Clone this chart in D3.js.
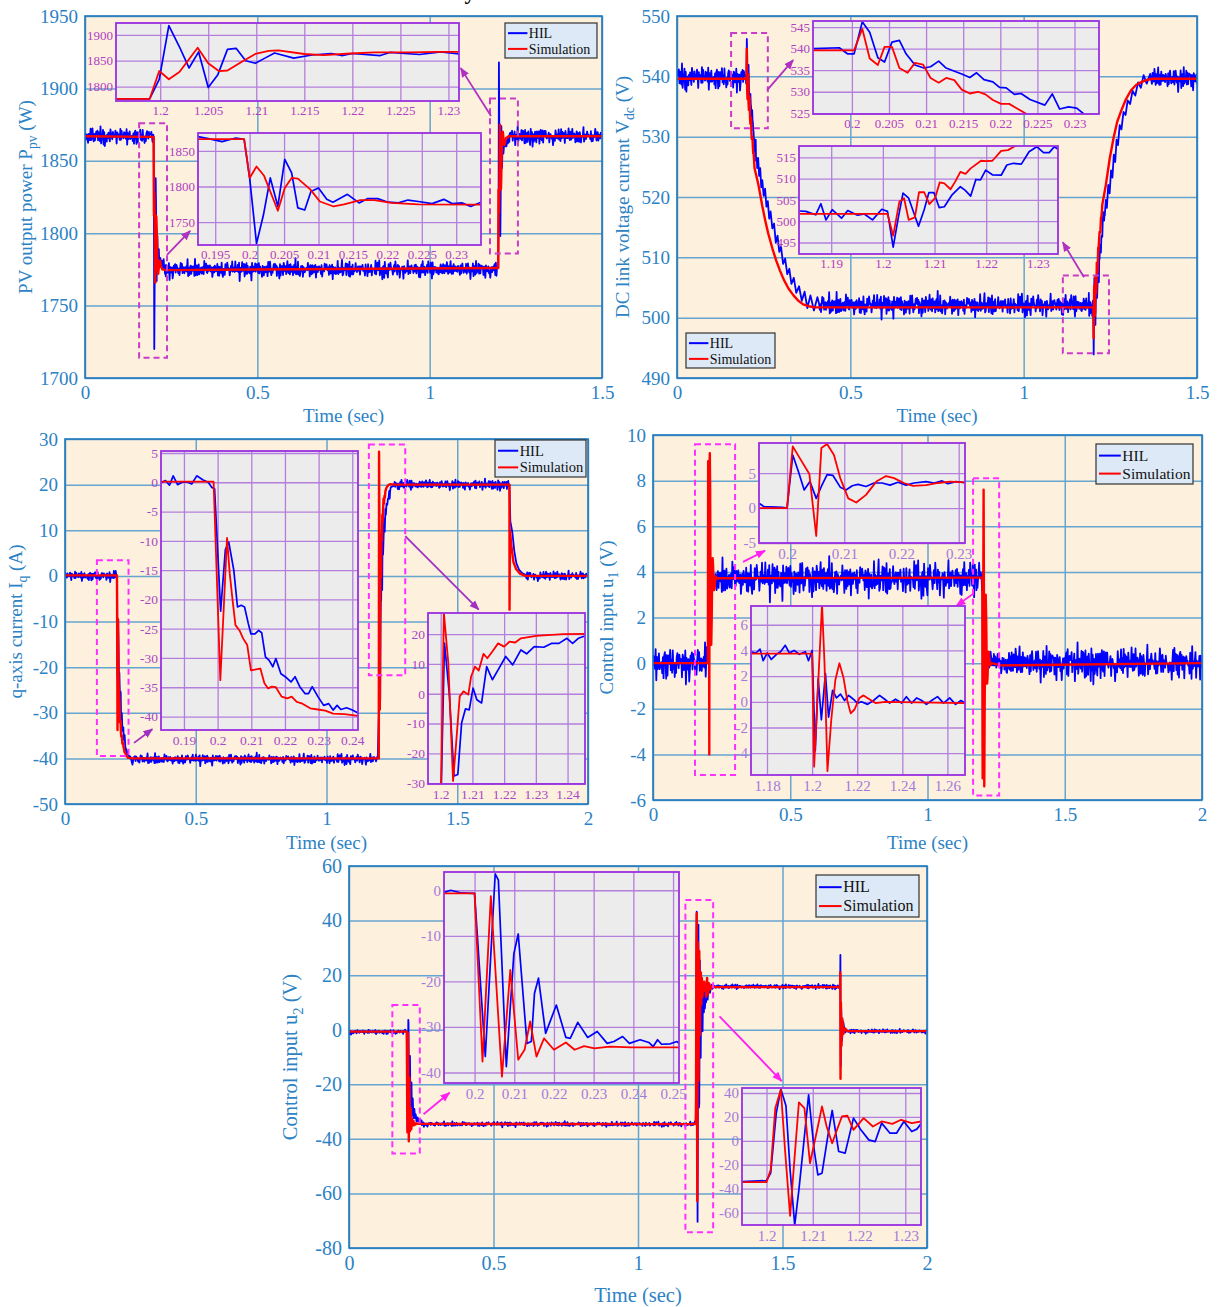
<!DOCTYPE html>
<html>
<head>
<meta charset="utf-8">
<script src="https://d3js.org/d3.v7.min.js"></script>
<style>
body { margin: 0; background: #fff; }
svg { display: block; }
</style>
</head>
<body>
<svg id="fig" width="1217" height="1307"></svg>
<script>
// ---- hand-read residual pattern used for the noisy HIL steady segments
var NOISE = [0.3,-0.5,0.1,0.7,-0.2,-0.8,0.4,0.0,-0.3,0.6,-0.6,0.2,0.9,-0.1,-0.4,0.5,-0.9,0.1,0.3,-0.2,
  0.6,-0.7,0.0,0.4,-0.3,1.0,-0.5,0.2,-0.1,0.5,-0.6,0.3,-1.0,0.1,0.4,-0.2,0.7,-0.4,0.0,0.2,
  -0.8,0.5,-0.1,0.3,-0.5,0.8,-0.3,0.1,-0.6,0.4,0.2,-0.9,0.6,-0.2,0.0,0.3,-0.4,0.9,-0.7,0.1,
  0.5,-0.3,-0.1,0.7,-0.5,0.2,-0.2,0.4,-1.0,0.3,0.1,-0.6,0.8,-0.1,-0.3,0.5,0.0,-0.7,0.6,-0.4,
  0.2,0.9,-0.2,-0.5,0.3,-0.8,0.1,0.4,-0.3,0.6,-0.1,0.0,-0.6,0.7,-0.4,0.2,-0.9];

// ---- tick labels
var mainT15 = [0, 0.5, 1, 1.5];
var mainT2 = [0, 0.5, 1, 1.5, 2];
var ppvTicks = [1700, 1750, 1800, 1850, 1900, 1950];
var vdcTicks = [490, 500, 510, 520, 530, 540, 550];
var iqTicks = [-50, -40, -30, -20, -10, 0, 10, 20, 30];
var u1Ticks = [-6, -4, -2, 0, 2, 4, 6, 8, 10];
var u2Ticks = [-80, -60, -40, -20, 0, 20, 40, 60];

var ppvDropT = [0.195, 0.2, 0.205, 0.21, 0.215, 0.22, 0.225, 0.23];
var ppvRiseT = [1.2, 1.205, 1.21, 1.215, 1.22, 1.225, 1.23];
var vdcDropT = [0.2, 0.205, 0.21, 0.215, 0.22, 0.225, 0.23];
var vdcRiseT = [1.19, 1.2, 1.21, 1.22, 1.23];
var iqDropT = [0.19, 0.2, 0.21, 0.22, 0.23, 0.24];
var iqRiseT = [1.2, 1.21, 1.22, 1.23, 1.24];
var u1DropT = [0.2, 0.21, 0.22, 0.23];
var u1RiseT = [1.18, 1.2, 1.22, 1.24, 1.26];
var u2DropT = [0.2, 0.21, 0.22, 0.23, 0.24, 0.25];
var u2RiseT = [1.2, 1.21, 1.22, 1.23];

// ---- PV power (W)
var ppvSimDrop = [[0.1925,1866.5],[0.1992,1866.5],[0.2,1812],[0.201,1828],[0.2021,1815],[0.2041,1766],[0.2051,1798],
  [0.2061,1812],[0.207,1811],[0.2088,1796],[0.2102,1779],[0.2122,1772],[0.2137,1775],[0.2161,1781],[0.2181,1781],
  [0.2206,1777],[0.2245,1775],[0.2336,1774.5]];
var ppvHilDrop = [[0.1925,1870],[0.194,1867],[0.196,1863],[0.198,1868],[0.1992,1866],[0.2,1812],[0.201,1720],
  [0.202,1760],[0.203,1812],[0.2041,1772],[0.2051,1838],[0.2061,1819],[0.207,1770],[0.208,1767],[0.2089,1793],
  [0.21,1798],[0.2112,1782],[0.2121,1778],[0.2142,1789],[0.2159,1777],[0.2171,1783],[0.2186,1783],[0.2201,1778],
  [0.2216,1777],[0.223,1781],[0.2245,1779],[0.2265,1776],[0.2282,1782],[0.2294,1776],[0.2309,1777],[0.2321,1772],[0.2336,1778]];
var ppvSimRise = [[1.1953,1776],[1.1989,1776],[1.1999,1830],[1.2009,1814],[1.202,1828],[1.2039,1875],[1.205,1845],
  [1.2061,1830],[1.207,1831],[1.2085,1848],[1.2099,1863],[1.2113,1869],[1.2123,1870],[1.215,1863],[1.217,1861],
  [1.2198,1864],[1.2223,1866],[1.226,1866],[1.2288,1867],[1.2311,1867]];
var ppvHilRise = [[1.1953,1776],[1.1989,1776],[1.1999,1814],[1.2009,1918],[1.202,1877],[1.203,1836],[1.204,1867],
  [1.205,1798],[1.206,1823],[1.207,1872],[1.2079,1874],[1.2089,1850],[1.2099,1845],[1.2109,1855],[1.2119,1865],
  [1.2139,1855],[1.2158,1861],[1.2178,1864],[1.219,1860],[1.22,1864],[1.2229,1860],[1.2239,1866],[1.227,1862],
  [1.2292,1867],[1.2311,1863]];
var ppvSteady = [[0,0.1922,1867,7],[0.2345,1.1945,1775,7],[1.232,1.5,1867,7]];

// ---- DC link voltage (V)
var vdcSimDrop = [[0.1948,539.6],[0.2003,539.6],[0.2014,544.6],[0.2024,537.7],[0.2035,536.2],[0.2044,540.4],
  [0.2054,540.4],[0.2064,535.5],[0.2075,534.4],[0.2085,536.7],[0.2096,536.3],[0.2106,533.2],[0.2117,532.1],
  [0.2127,533.2],[0.2138,532.7],[0.2148,530.5],[0.2159,529.6],[0.217,530],[0.218,529.4],[0.219,528.1],
  [0.2201,527.2],[0.2212,527.2],[0.2222,526.2],[0.2236,524.8]];
var vdcSimDecay = [[0.235,522],[0.246,518.5],[0.255,516],[0.263,514],[0.275,511.5],[0.286,509.5],[0.297,507.8],
  [0.308,506.3],[0.322,504.8],[0.336,503.7],[0.35,502.8],[0.364,502.2],[0.38,501.9],[0.398,501.7]];
var vdcHilDrop = [[0.1948,540],[0.1983,540.2],[0.1994,538.8],[0.2003,538.8],[0.2014,546.2],[0.2024,543.8],
  [0.2035,537.9],[0.2044,536.9],[0.2054,541.5],[0.2064,541.9],[0.2073,538.8],[0.2085,536.2],[0.2097,535.5],
  [0.2106,535.8],[0.2117,537.1],[0.2127,535.5],[0.2148,534.1],[0.2159,533.3],[0.2168,534.4],[0.2178,532.8],
  [0.219,532.3],[0.2199,531],[0.2208,530.9],[0.2219,529.4],[0.2228,529.6],[0.224,528.2],[0.226,526.9],
  [0.227,529.5],[0.228,526],[0.2292,526.5],[0.2303,526.2],[0.2313,524.8]];
var vdcHilDecay = [[0.234,526.5],[0.237,523.5],[0.24,524.8],[0.243,521.6],[0.246,522.8],[0.25,520.2],[0.254,521.4],
  [0.258,518.4],[0.262,519.3],[0.266,516.4],[0.27,517.6],[0.275,514.8],[0.28,515.6],[0.285,512.4],[0.29,513.6],
  [0.295,510.9],[0.3,511.8],[0.306,508.9],[0.312,509.8],[0.318,507.2],[0.324,508.1],[0.33,505.6],[0.337,506.6],
  [0.344,504.1],[0.352,505.2],[0.36,502.8],[0.368,504.3],[0.376,501.6],[0.385,503.7],[0.395,501.2],[0.405,503.4]];
var vdcSimRise = [[1.1838,501.7],[1.2009,501.7],[1.202,496.6],[1.2032,504.6],[1.2041,505.4],[1.205,500.3],
  [1.2062,500.9],[1.207,506.8],[1.208,506.8],[1.209,504],[1.2101,505.4],[1.211,509.1],[1.2119,508.9],
  [1.2131,507.5],[1.214,509.3],[1.215,511.6],[1.216,511.1],[1.217,512.4],[1.219,514.2],[1.22,514.1],
  [1.2212,514.2],[1.2229,516.5],[1.2242,516.7],[1.2257,517.7],[1.2268,518.7]];
var vdcSimRecover = [[1.237,522],[1.248,526.3],[1.26,530],[1.27,532.5],[1.282,534.4],[1.295,536.2],[1.31,537.7],
  [1.325,538.6],[1.338,539],[1.355,539.4],[1.372,539.6],[1.5,539.6]];
var vdcHilRise = [[1.1838,502.4],[1.1851,502.3],[1.187,501.5],[1.188,504.1],[1.189,500.3],[1.1902,502.7],
  [1.192,500.7],[1.1932,502.5],[1.1951,501.4],[1.1964,501.7],[1.198,500.3],[1.1998,502.8],[1.2009,502.3],
  [1.202,493.9],[1.203,500.9],[1.2039,506.6],[1.205,505.4],[1.2069,498.8],[1.208,502.7],[1.2089,506.7],
  [1.2099,506.7],[1.2109,503.2],[1.2119,503.4],[1.2134,506.2],[1.215,508.1],[1.2159,507.3],[1.217,505.9],
  [1.218,509.8],[1.2189,509.7],[1.2199,512],[1.2212,510.9],[1.2229,510.8],[1.224,513.2],[1.2253,513.6],
  [1.2268,513.4],[1.2283,516.3],[1.2298,517.5],[1.2311,516.1],[1.2322,516.1],[1.2332,517.5],[1.2339,516.9]];
var vdcHilRecover = [[1.237,519.5],[1.24,518.2],[1.244,522],[1.248,520.6],[1.252,524.4],[1.256,523.2],[1.26,527],
  [1.264,525.8],[1.268,529.5],[1.272,528.6],[1.277,531.9],[1.282,531.2],[1.288,534.1],[1.294,533.6],[1.3,536],
  [1.307,535.4],[1.314,537.6],[1.322,536.8],[1.33,539],[1.338,538.1],[1.346,540.2],[1.355,538.8],[1.365,540.4]];
var vdcSteady = [[0,0.1945,539.8,2.4],[0.41,1.1835,502.1,2.1],[1.37,1.5,539.6,2.3]];

// ---- q-axis current (A)
var iqSimDrop = [[0.1832,0.1],[0.1988,0.1],[0.2008,-33.8],[0.2028,-9.5],[0.2036,-15.6],[0.2044,-19.9],[0.2053,-24.4],
  [0.2065,-25.3],[0.2076,-26.7],[0.2088,-27.8],[0.2099,-32.1],[0.211,-32],[0.2127,-31.8],[0.2139,-34.3],[0.215,-35.2],
  [0.2161,-34.9],[0.2173,-35],[0.219,-36.6],[0.2207,-36.9],[0.222,-36.6],[0.2235,-37.5],[0.2252,-37.8],[0.2275,-38.6],
  [0.2298,-38.8],[0.232,-39],[0.2343,-39.5],[0.2377,-39.6],[0.2417,-39.9]];
var iqHilDrop = [[0.1832,-0.1],[0.1845,0.3],[0.1857,-0.5],[0.1868,1.1],[0.1881,-0.4],[0.1895,0],[0.1911,0],
  [0.1923,-0.3],[0.1938,1.1],[0.1957,0.4],[0.1972,0],[0.1983,-0.9],[0.1991,-1.1],[0.2009,-22],[0.2023,-11.5],
  [0.2033,-10.2],[0.2048,-15],[0.2059,-21.3],[0.207,-21],[0.208,-21.3],[0.2091,-24.1],[0.2099,-25.9],[0.2111,-25.9],
  [0.2122,-25.3],[0.2131,-25.7],[0.2142,-29.8],[0.2153,-30.4],[0.2164,-31.5],[0.2173,-30.1],[0.2188,-32.7],
  [0.2201,-33.2],[0.2218,-34.1],[0.223,-33.2],[0.2244,-34.9],[0.226,-36.1],[0.227,-36.1],[0.2281,-34.9],
  [0.2298,-36.6],[0.2315,-38.1],[0.233,-37.8],[0.2343,-38.9],[0.2355,-38.1],[0.2366,-38.8],[0.2383,-38.5],
  [0.24,-38.9],[0.2417,-39.4],[0.25,-39.6]];
var iqSimRise = [[1.196,-40],[1.2,-40],[1.201,27.2],[1.2024,10.3],[1.2039,-29.3],[1.2048,-17.6],[1.206,-0.9],
  [1.2072,0.8],[1.2087,-0.3],[1.2096,5.8],[1.2108,9.1],[1.212,7.8],[1.2135,13.4],[1.2147,11.9],[1.2163,14.2],
  [1.2181,16.9],[1.22,15.8],[1.2217,17.5],[1.2235,17.2],[1.2253,18.6],[1.2277,19],[1.2301,19.4],[1.2337,19.7],
  [1.2386,20],[1.2455,20.1]];
var iqHilRise = [[1.196,-40],[1.2002,-30.2],[1.2012,17],[1.2027,0.2],[1.2042,-27.6],[1.2054,-27.1],[1.2066,-9.8],
  [1.2078,-5.1],[1.209,-5.4],[1.2102,1.9],[1.2114,-2],[1.2129,-3.1],[1.2145,9.1],[1.2163,4.7],[1.2181,8],
  [1.2205,12.5],[1.2227,9.7],[1.2253,14.7],[1.2271,13.4],[1.2295,15.8],[1.2325,15.6],[1.2349,16.9],[1.2373,16.9],
  [1.2398,18.6],[1.2416,16.9],[1.2434,18.6],[1.2455,19.4],[1.252,19.6]];
var iqSimFall = [[1.6995,20],[1.7,-7.4],[1.7015,10],[1.708,6],[1.715,3],[1.725,1.5],[1.74,0.5],[1.76,0],[2,0]];
var iqHilFall = [[1.6995,20],[1.703,12],[1.711,9.4],[1.718,5.5],[1.726,2.8],[1.736,1.4],[1.748,0.6],[1.76,0.3]];
var iqSteady = [[0,0.1828,0,1.3],[0.258,1.1955,-40.2,1.3],[1.258,1.699,20,1.3],[1.765,2,0,1.3]];

// ---- control input u1 (V)
var u1SimDrop = [[0.1951,0],[0.2,0],[0.201,8.85],[0.2022,7.2],[0.2039,4.9],[0.2051,-4],[0.206,8.6],[0.207,9.2],
  [0.2082,7.6],[0.2093,4.3],[0.2107,1.4],[0.2121,0.8],[0.2138,1.9],[0.2156,3.8],[0.2173,4.6],[0.2187,4.3],
  [0.2204,3.6],[0.222,3.2],[0.2243,3.3],[0.2264,3.6],[0.2285,3.8],[0.2311,3.7]];
var u1HilDrop = [[0.1951,0.7],[0.196,0.2],[0.1992,0.1],[0.2,0],[0.201,7.6],[0.202,5.2],[0.203,2.6],[0.204,3.8],
  [0.2051,1.4],[0.206,3.1],[0.207,4.8],[0.208,4.7],[0.2093,3],[0.2103,2.6],[0.2114,3.2],[0.2124,3.4],[0.2138,3.1],
  [0.2152,3.6],[0.2166,3.6],[0.218,3.3],[0.2194,3.7],[0.2208,3.3],[0.2222,3.6],[0.2243,3.8],[0.2257,3.6],
  [0.2271,3.9],[0.2281,3.5],[0.2295,3.8],[0.2311,3.65]];
var u1SimRise = [[1.1729,3.75],[1.2,3.75],[1.2009,-5.05],[1.2044,7.6],[1.2055,3],[1.2068,-5.4],[1.2085,-1.4],
  [1.2103,1.7],[1.2121,3],[1.2139,1.9],[1.2156,0.1],[1.2171,-0.9],[1.2188,-0.6],[1.221,0.3],[1.2228,0.5],
  [1.2254,0.2],[1.2281,-0.1],[1.2325,0],[1.2678,-0.1]];
var u1HilRise = [[1.1729,3.9],[1.1751,3.8],[1.1769,4.1],[1.1783,3.2],[1.1801,3.8],[1.1819,3.3],[1.1842,3.7],
  [1.186,3.9],[1.1881,4.4],[1.1899,3.8],[1.192,4],[1.1943,3.7],[1.197,3.9],[1.1984,3.2],[1.2,4],[1.2014,-3.8],
  [1.2027,1.8],[1.2041,-1.4],[1.2059,2.2],[1.2073,-1.2],[1.2091,0.9],[1.2108,0.3],[1.2126,0.6],[1.2144,0.1],
  [1.2162,0.5],[1.2183,0.2],[1.2201,-0.1],[1.2219,0],[1.2246,-0.2],[1.2272,0.1],[1.2299,0.5],[1.2322,0.2],
  [1.2344,-0.1],[1.237,0.2],[1.2397,-0.1],[1.2418,0.4],[1.2441,-0.1],[1.2464,0.3],[1.2486,0.1],[1.2507,-0.2],
  [1.253,0.1],[1.2556,0.4],[1.2583,-0.1],[1.261,0.3],[1.2636,-0.2],[1.266,0.1],[1.2678,-0.1]];
var u1Steady = [[0,0.1948,0,0.9],[0.2315,1.1725,3.7,0.9],[1.2682,2,0,0.9]];

// ---- control input u2 (V)
var u2SimDrop = [[0.1923,-0.7],[0.2,-0.7],[0.202,-37.6],[0.2041,-1.3],[0.2069,-40.9],[0.209,-17.5],[0.211,-37.2],
  [0.2126,-35],[0.214,-28.8],[0.2156,-36.5],[0.2175,-32.5],[0.22,-35],[0.223,-33.4],[0.2252,-35],[0.2276,-34.2],
  [0.2302,-34.7],[0.234,-34.3],[0.2395,-34.5],[0.2515,-34.5]];
var u2HilDrop = [[0.1923,-0.5],[0.194,0],[0.1967,-0.6],[0.1995,-0.7],[0.2,-0.7],[0.2027,-36.5],[0.2052,3.6],
  [0.206,2.2],[0.208,-38.7],[0.2099,-13.9],[0.211,-9.6],[0.2132,-33.6],[0.2143,-33.2],[0.2151,-22.6],[0.2161,-19.3],
  [0.2179,-31.4],[0.2206,-25.2],[0.223,-32.3],[0.2241,-32.5],[0.226,-29],[0.2285,-32.3],[0.2309,-31],
  [0.2334,-33.6],[0.2351,-33.2],[0.2373,-32.1],[0.239,-33.6],[0.2417,-32.8],[0.2439,-33.4],[0.245,-34.3],
  [0.2461,-32.8],[0.2471,-33.8],[0.2493,-33.7],[0.251,-33.2],[0.2515,-33.6]];
var u2SimRise = [[1.1947,-34.6],[1.2,-34.6],[1.2009,-24.3],[1.2019,27.4],[1.2031,42.7],[1.204,-7.5],[1.2051,-62.8],
  [1.2058,-27.1],[1.207,32.1],[1.2082,27.4],[1.2094,-18.7],[1.2111,12],[1.212,28.8],[1.213,12],[1.2142,-2],
  [1.2151,7.8],[1.2163,20.4],[1.2175,21],[1.2188,9.2],[1.221,19],[1.223,12],[1.2249,16.2],[1.2272,14.2],
  [1.2291,17.6],[1.2314,14.8],[1.2334,16.2]];
var u2HilRise = [[1.1947,-34.1],[1.2,-33.2],[1.2009,-27],[1.2021,23],[1.2031,43.3],[1.2042,29.3],[1.2051,-24.3],
  [1.2061,-70.4],[1.207,-41],[1.2079,-7.5],[1.2091,38.5],[1.2103,-7.5],[1.2111,-28.5],[1.212,-27.1],[1.2133,5],
  [1.2142,25.4],[1.2156,-8.9],[1.217,-10.3],[1.2188,19],[1.2204,9.2],[1.2221,0.8],[1.2235,-0.6],[1.2249,14.8],
  [1.2267,6.4],[1.2281,6.4],[1.2297,16.2],[1.2314,7.8],[1.2325,9.8],[1.2334,14.2]];
var u2SimTail = [[1.236,12],[1.239,19],[1.242,13],[1.246,17],[1.25,14.8],[1.256,16],[1.262,15.6]];
var u2HilTail = [[1.2355,10],[1.238,15.5],[1.241,11],[1.245,17],[1.249,13.5],[1.254,16.5],[1.258,15]];
var u2SimFall = [[1.6995,15.6],[1.7,21],[1.7008,-18],[1.702,10],[1.704,-6],[1.707,4],[1.711,-1.5],[1.716,0.5],
  [1.725,-0.5],[2,-0.5]];
var u2HilFall = [[1.6995,15.6],[1.7003,27.4],[1.7015,-13.4],[1.703,8],[1.706,-4],[1.71,3],[1.716,-1],[1.724,-0.3]];
var u2Steady = [[0,0.192,-0.8,1.0],[0.252,1.1944,-34.6,1.0],[1.262,1.699,15.8,1.0],[1.728,2,-0.6,1.0]];

// HIL trace: read transient points + noisy steady stretches at the read level
function hilTrace(points, steady, dt, k0) {
  var out = points.slice();
  var n = NOISE.length;
  var k = k0;
  steady.forEach(function(s) {
    for (var t = s[0]; t <= s[1] + 1e-9; t += dt) {
      var r = 0.7 * NOISE[k % n] + 0.45 * NOISE[(k * 7 + Math.floor(k / n)) % n];
      out.push([t, s[2] + s[3] * r]);
      k++;
    }
  });
  return out.sort(function(a, b) { return a[0] - b[0]; });
}

var SERIF = '"Liberation Serif","DejaVu Serif",serif';
var LABEL_BLUE = "#2c82c4";

var panels = [
  { box: [85, 16, 602, 378], xDom: [0, 1.5], yDom: [1700, 1950], xTicks: mainT15, yTicks: ppvTicks,
    ylab: ["PV output power P", "pv", "  (W)"], ylabDx: -60, xlabDy: 44, labFs: 19,
    sim: [[0, 1867]].concat(ppvSimDrop, ppvSimRise, [[1.5, 1867]]),
    hil: hilTrace(ppvHilDrop.concat(ppvHilRise), ppvSteady, 0.0018, 0),
    legend: [505, 23, 92, 35, 14],
    boxes: [[0.157, 0.238, 1876, 1714], [1.175, 1.256, 1893, 1786]], boxColor: "#c83cc8",
    arrows: [[0.238, 1785, 0.305, 1801.6], [1.178, 1881, 1.09, 1914]], arrowColor: "#b030c0",
    insetText: "#b040c4",
    insets: [
      { box: [116, 23, 459, 101], xDom: [1.1954, 1.2311], yDom: [1772, 1923], xTicks: ppvRiseT, yTicks: [1800, 1850, 1900],
        sim: ppvSimRise, hil: ppvHilRise, fs: 13 },
      { box: [198, 133, 481, 245], xDom: [0.1925, 0.2336], yDom: [1718, 1875], xTicks: ppvDropT, yTicks: [1750, 1800, 1850],
        sim: ppvSimDrop, hil: ppvHilDrop, fs: 13 }
    ] },
  { box: [677, 16, 1197, 378], xDom: [0, 1.5], yDom: [490, 550], xTicks: mainT15, yTicks: vdcTicks,
    ylab: ["DC link voltage current V", "dc", " (V)"], ylabDx: -55, xlabDy: 44, labFs: 19,
    sim: [[0, 539.6]].concat(vdcSimDrop, vdcSimDecay, vdcSimRise, vdcSimRecover),
    hil: hilTrace(vdcHilDrop.concat(vdcHilDecay, vdcHilRise, vdcHilRecover), vdcSteady, 0.0018, 17),
    legend: [686, 333, 89, 35, 14],
    boxes: [[0.156, 0.262, 547.2, 531.4], [1.113, 1.246, 507, 494.1]], boxColor: "#c83cc8",
    arrows: [[0.26, 537.7, 0.335, 542.7], [1.174, 506.7, 1.113, 512.5]], arrowColor: "#b030c0",
    insetText: "#b040c4",
    insets: [
      { box: [813, 21, 1099, 114], xDom: [0.19476, 0.2333], yDom: [524.85, 546.4], xTicks: vdcDropT, yTicks: [525, 530, 535, 540, 545],
        sim: vdcSimDrop, hil: vdcHilDrop, fs: 13 },
      { box: [799, 146, 1058, 254], xDom: [1.18377, 1.2339], yDom: [492.3, 517.66], xTicks: vdcRiseT, yTicks: [495, 500, 505, 510, 515],
        sim: vdcSimRise, hil: vdcHilRise, fs: 13 }
    ] },
  { box: [65, 439, 588, 804], xDom: [0, 2], yDom: [-50, 30], xTicks: mainT2, yTicks: iqTicks,
    ylab: ["q-axis current I", "q", " (A)"], ylabDx: -50, xlabDy: 45, labFs: 19,
    sim: [[0, 0.1]].concat(iqSimDrop, [[0.26, -40]], iqSimRise, [[1.26, 20]], iqSimFall),
    hil: hilTrace(iqHilDrop.concat(iqHilRise, iqHilFall), iqSteady, 0.0024, 41),
    legend: [495, 440, 91, 37, 14.5],
    boxes: [[0.122, 0.243, 3.4, -39.5], [1.162, 1.301, 28.8, -21.8]], boxColor: "#ff30ff",
    arrows: [[0.264, -36.6, 0.334, -33.6], [1.301, 8.7, 1.582, -7.4]], arrowColor: "#a030c0",
    insetText: "#a848c8",
    insets: [
      { box: [161, 451, 358, 730], xDom: [0.18318, 0.2417], yDom: [-42.3, 5.34], xTicks: iqDropT,
        yTicks: [-40, -35, -30, -25, -20, -15, -10, -5, 0, 5], sim: iqSimDrop, hil: iqHilDrop, fs: 13.5 },
      { box: [428, 613, 585, 784], xDom: [1.196, 1.2455], yDom: [-30.3, 27.1], xTicks: iqRiseT,
        yTicks: [-30, -20, -10, 0, 10, 20], sim: iqSimRise, hil: iqHilRise, fs: 13.5 }
    ] },
  { box: [653, 435, 1202, 800], xDom: [0, 2], yDom: [-6, 10], xTicks: mainT2, yTicks: u1Ticks,
    ylab: ["Control input u", "1", " (V)"], ylabDx: -47, xlabDy: 49, labFs: 19,
    sim: [[0, 0]].concat(u1SimDrop, [[0.24, 3.72]], u1SimRise, [[2, 0]]),
    hil: hilTrace(u1HilDrop.concat(u1HilRise), u1Steady, 0.0024, 63),
    legend: [1096, 444, 97, 40, 15.5],
    boxes: [[0.153, 0.299, 9.6, -4.9], [1.166, 1.261, 8.1, -5.8]], boxColor: "#ff30ff",
    arrows: [[0.328, 4.44, 0.408, 4.93], [1.169, 3.06, 1.105, 2.51]], arrowColor: "#ff20f0",
    insetText: "#a27ade",
    insets: [
      { box: [759, 443, 965, 543], xDom: [0.1951, 0.2311], yDom: [-5, 9.33], xTicks: u1DropT, yTicks: [-5, 0, 5],
        sim: u1SimDrop, hil: u1HilDrop, fs: 15 },
      { box: [751, 606, 965, 775], xDom: [1.1729, 1.2678], yDom: [-5.7, 7.46], xTicks: u1RiseT, yTicks: [-4, -2, 0, 2, 4, 6],
        sim: u1SimRise, hil: u1HilRise, fs: 15 }
    ] },
  { box: [349, 866, 927, 1248], xDom: [0, 2], yDom: [-80, 60], xTicks: mainT2, yTicks: u2Ticks,
    ylab: ["Control input u", "2", " (V)"], ylabDx: -59, xlabDy: 54, labFs: 20.5, tickFs: 20,
    sim: [[0, -0.7]].concat(u2SimDrop, u2SimRise, u2SimTail, u2SimFall),
    hil: hilTrace(u2HilDrop.concat(u2HilRise, u2HilTail, u2HilFall), u2Steady, 0.0024, 29),
    legend: [816, 875, 103, 42, 16],
    boxes: [[0.15, 0.245, 9.1, -45.4], [1.164, 1.26, 47.5, -74.2]], boxColor: "#ff30ff",
    arrows: [[0.258, -31, 0.348, -23.1], [1.282, 4.9, 1.497, -18.8]], arrowColor: "#ff20f0",
    insetText: "#a27ade",
    insets: [
      { box: [444, 872, 679, 1083], xDom: [0.1923, 0.2515], yDom: [-42.3, 4], xTicks: u2DropT, yTicks: [-40, -30, -20, -10, 0],
        sim: u2SimDrop, hil: u2HilDrop, fs: 15 },
      { box: [742, 1088, 921, 1225], xDom: [1.1947, 1.2334], yDom: [-70.4, 44.2], xTicks: u2RiseT, yTicks: [-60, -40, -20, 0, 20, 40],
        sim: u2SimRise, hil: u2HilRise, fs: 15 }
    ] }
];

var svg = d3.select("#fig");
var defs = svg.append("defs");
var clipN = 0;

function fmt(v) { return String(+v.toFixed(4)); }

function clipRect(b) {
  var id = "clip" + (clipN++);
  defs.append("clipPath").attr("id", id).append("rect")
    .attr("x", b[0]).attr("y", b[1]).attr("width", b[2] - b[0]).attr("height", b[3] - b[1]);
  return "url(#" + id + ")";
}

function arrowMarker(color) {
  var id = "arr" + color.replace("#", "");
  if (defs.select("#" + id).empty()) {
    defs.append("marker").attr("id", id).attr("viewBox", "0 0 10 10")
      .attr("refX", 9).attr("refY", 5).attr("markerWidth", 10).attr("markerHeight", 10)
      .attr("markerUnits", "userSpaceOnUse").attr("orient", "auto")
      .append("path").attr("d", "M0,1 L10,5 L0,9 Z").attr("fill", color);
  }
  return "url(#" + id + ")";
}

function drawPanel(p) {
  var b = p.box, w = b[2] - b[0], h = b[3] - b[1];
  var x = d3.scaleLinear().domain(p.xDom).range([b[0], b[2]]);
  var y = d3.scaleLinear().domain(p.yDom).range([b[3], b[1]]);
  var g = svg.append("g");
  var tickFs = p.tickFs || 19;

  g.append("rect").attr("x", b[0]).attr("y", b[1]).attr("width", w).attr("height", h).attr("fill", "#fdf0dc");

  var ax = g.append("g").attr("transform", "translate(0," + b[3] + ")")
    .call(d3.axisBottom(x).tickValues(p.xTicks).tickSize(-h).tickPadding(8).tickFormat(fmt));
  var ay = g.append("g").attr("transform", "translate(" + b[0] + ",0)")
    .call(d3.axisLeft(y).tickValues(p.yTicks).tickSize(-w).tickPadding(7).tickFormat(fmt));
  [ax, ay].forEach(function(a) {
    a.select(".domain").remove();
    a.attr("font-family", SERIF).attr("font-size", tickFs);
    a.selectAll("line").attr("stroke", "#65a5d0").attr("stroke-width", 1.5);
    a.selectAll("text").attr("fill", LABEL_BLUE);
  });

  var line = d3.line().x(function(d) { return x(d[0]); }).y(function(d) { return y(d[1]); });
  var data = g.append("g").attr("clip-path", clipRect(b));
  data.append("path").attr("d", line(p.hil)).attr("fill", "none").attr("stroke", "#0000ff")
    .attr("stroke-width", 1.8).attr("stroke-linejoin", "round");
  data.append("path").attr("d", line(p.sim)).attr("fill", "none").attr("stroke", "#ff0000")
    .attr("stroke-width", 2.4).attr("stroke-linejoin", "round");

  g.append("rect").attr("x", b[0]).attr("y", b[1]).attr("width", w).attr("height", h)
    .attr("fill", "none").attr("stroke", "#2079bd").attr("stroke-width", 1.6);

  // zoom markers
  g.selectAll(null).data(p.boxes).join("rect")
    .attr("x", function(d) { return x(d[0]); }).attr("y", function(d) { return y(d[2]); })
    .attr("width", function(d) { return x(d[1]) - x(d[0]); })
    .attr("height", function(d) { return y(d[3]) - y(d[2]); })
    .attr("fill", "none").attr("stroke", p.boxColor).attr("stroke-width", 2)
    .attr("stroke-dasharray", "6,4");
  var mk = arrowMarker(p.arrowColor);
  g.selectAll(null).data(p.arrows).join("line")
    .attr("x1", function(d) { return x(d[0]); }).attr("y1", function(d) { return y(d[1]); })
    .attr("x2", function(d) { return x(d[2]); }).attr("y2", function(d) { return y(d[3]); })
    .attr("stroke", p.arrowColor).attr("stroke-width", 1.8).attr("marker-end", mk);

  p.insets.forEach(function(ins) { drawInset(g, ins, p.insetText); });

  // legend
  var L = p.legend;
  var lg = g.append("g");
  lg.append("rect").attr("x", L[0]).attr("y", L[1]).attr("width", L[2]).attr("height", L[3])
    .attr("fill", "#dde9f6").attr("stroke", "#333").attr("stroke-width", 1.2);
  [["HIL", "#0000ff"], ["Simulation", "#ff0000"]].forEach(function(e, i) {
    var yy = L[1] + L[3] * (i === 0 ? 0.29 : 0.74);
    lg.append("line").attr("x1", L[0] + 3).attr("x2", L[0] + L[4] * 1.6).attr("y1", yy).attr("y2", yy)
      .attr("stroke", e[1]).attr("stroke-width", 2);
    lg.append("text").attr("x", L[0] + L[4] * 1.7).attr("y", yy).attr("dy", "0.33em")
      .attr("font-family", SERIF).attr("font-size", L[4]).attr("fill", "#111").text(e[0]);
  });

  // axis titles
  g.append("text").attr("x", (b[0] + b[2]) / 2).attr("y", b[3] + p.xlabDy)
    .attr("text-anchor", "middle").attr("font-family", SERIF).attr("font-size", p.labFs)
    .attr("fill", LABEL_BLUE).text("Time (sec)");
  var cx = b[0] + p.ylabDx, cy = (b[1] + b[3]) / 2;
  var yt = g.append("text").attr("transform", "translate(" + cx + "," + cy + ") rotate(-90)")
    .attr("text-anchor", "middle").attr("dy", "0.35em").attr("font-family", SERIF)
    .attr("font-size", p.labFs).attr("fill", LABEL_BLUE);
  yt.append("tspan").text(p.ylab[0]);
  yt.append("tspan").attr("dy", p.labFs * 0.3).attr("font-size", p.labFs * 0.72).text(p.ylab[1]);
  yt.append("tspan").attr("dy", -p.labFs * 0.3).text(p.ylab[2]);
}

function drawInset(parent, ins, txtColor) {
  var b = ins.box, w = b[2] - b[0], h = b[3] - b[1];
  var x = d3.scaleLinear().domain(ins.xDom).range([b[0], b[2]]);
  var y = d3.scaleLinear().domain(ins.yDom).range([b[3], b[1]]);
  var g = parent.append("g");
  g.append("rect").attr("x", b[0]).attr("y", b[1]).attr("width", w).attr("height", h).attr("fill", "#ececec");
  var ax = g.append("g").attr("transform", "translate(0," + b[3] + ")")
    .call(d3.axisBottom(x).tickValues(ins.xTicks).tickSize(-h).tickPadding(5).tickFormat(fmt));
  var ay = g.append("g").attr("transform", "translate(" + b[0] + ",0)")
    .call(d3.axisLeft(y).tickValues(ins.yTicks).tickSize(-w).tickPadding(3).tickFormat(fmt));
  [ax, ay].forEach(function(a) {
    a.select(".domain").remove();
    a.attr("font-family", SERIF).attr("font-size", ins.fs);
    a.selectAll("line").attr("stroke", "#b47fdc").attr("stroke-width", 1.3);
    a.selectAll("text").attr("fill", txtColor);
  });
  var line = d3.line().x(function(d) { return x(d[0]); }).y(function(d) { return y(d[1]); });
  var data = g.append("g").attr("clip-path", clipRect(b));
  data.append("path").attr("d", line(ins.hil)).attr("fill", "none").attr("stroke", "#0000ff")
    .attr("stroke-width", 1.7).attr("stroke-linejoin", "round");
  data.append("path").attr("d", line(ins.sim)).attr("fill", "none").attr("stroke", "#ff0000")
    .attr("stroke-width", 1.8).attr("stroke-linejoin", "round");
  g.append("rect").attr("x", b[0]).attr("y", b[1]).attr("width", w).attr("height", h)
    .attr("fill", "none").attr("stroke", "#9a2fe0").attr("stroke-width", 1.8);
}

panels.forEach(drawPanel);

// tail of the cropped figure title at the top edge
svg.append("text").attr("x", 470).attr("y", -1).attr("text-anchor", "middle")
  .attr("font-family", SERIF).attr("font-weight", "bold").attr("font-size", 22).attr("fill", "#000").text("y");
</script>
</body>
</html>
